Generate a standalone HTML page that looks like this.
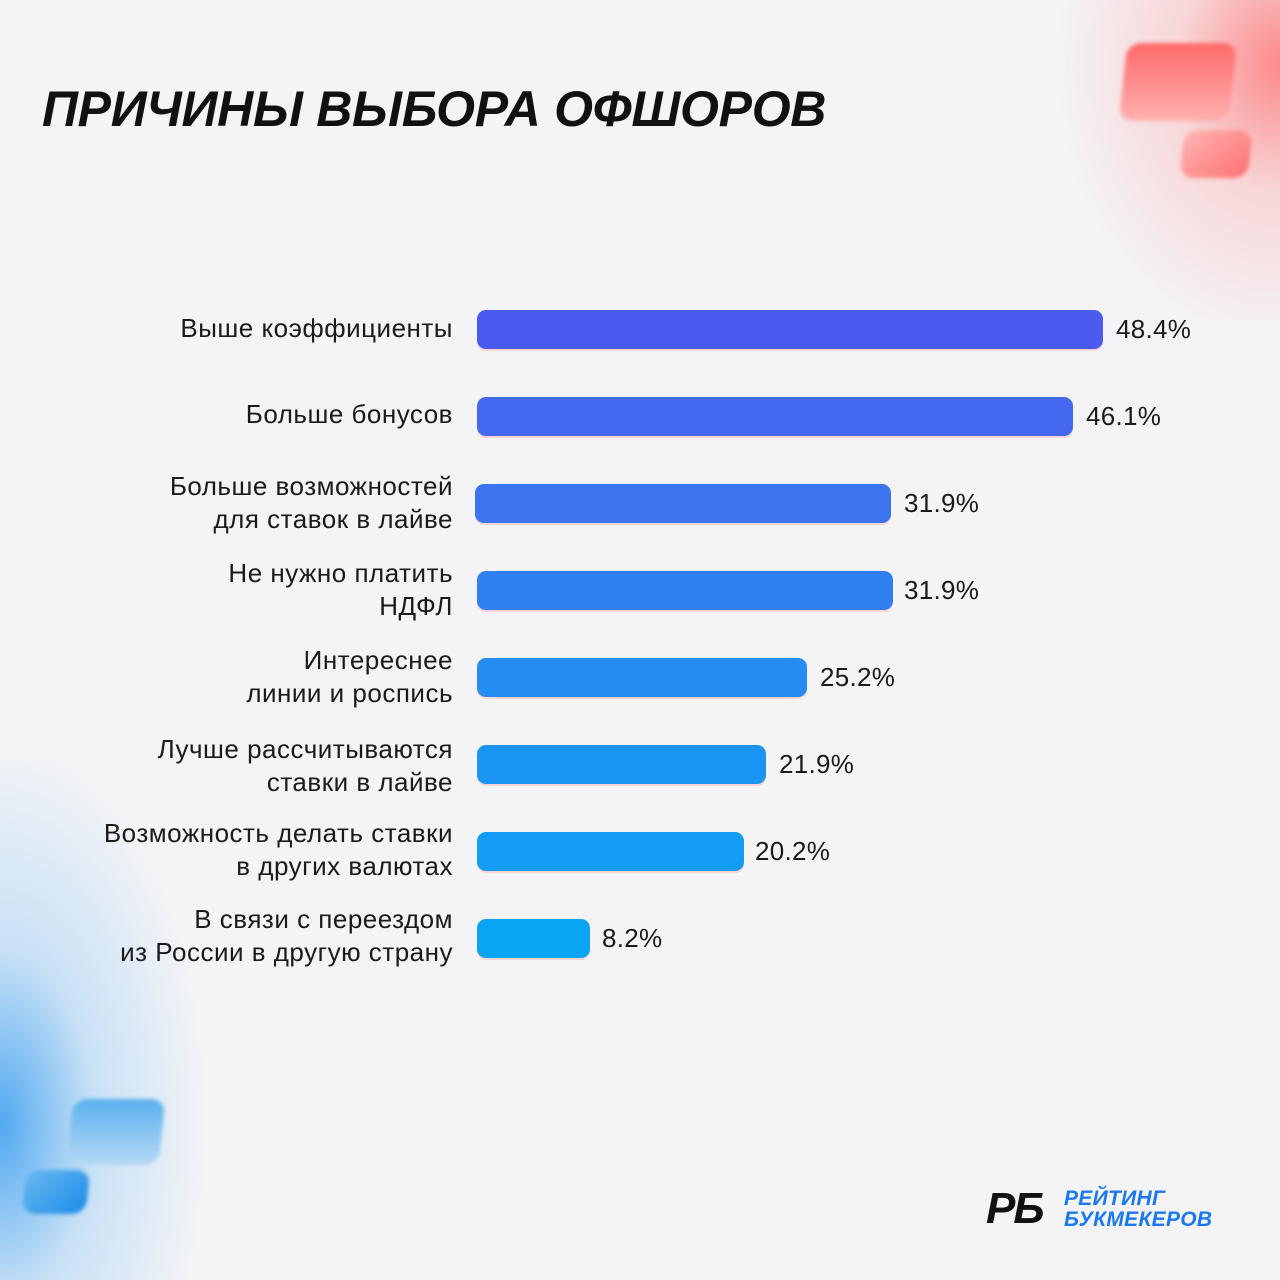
<!DOCTYPE html>
<html><head><meta charset="utf-8"><style>
body{margin:0;width:1280px;height:1280px;overflow:hidden;background:#f4f4f6;font-family:"Liberation Sans","DejaVu Sans",sans-serif;position:relative}
.bg1{position:absolute;right:0;top:0;width:380px;height:320px;background:radial-gradient(ellipse 60% 90% at 100% 20%,rgba(255,110,110,0.8),rgba(255,160,160,0.35) 45%,rgba(255,200,200,0) 100%)}
.bg2{position:absolute;left:0;bottom:0;width:300px;height:520px;background:radial-gradient(ellipse 70% 75% at 0% 70%,rgba(40,150,240,0.8),rgba(120,190,245,0.35) 45%,rgba(200,225,250,0) 100%)}
.sh{position:absolute;border-radius:14px;transform:skewX(-6deg);filter:blur(2px)}
h1{position:absolute;left:42px;top:80px;margin:0;font-size:50px;font-weight:bold;font-style:italic;color:#111;letter-spacing:-0.3px}
.lab{position:absolute;right:827px;text-align:right;font-size:26px;color:#1a1a1a;line-height:33px;letter-spacing:0.5px}
.bar{position:absolute;left:477px;height:39px;border-radius:9px;box-shadow:0 2px 0 rgba(255,150,150,0.35)}
.val{position:absolute;font-size:26px;color:#1a1a1a;letter-spacing:0.3px}
</style></head><body>
<div class="bg1"></div><div class="bg2"></div>
<div class="sh" style="left:1123px;top:43px;width:110px;height:78px;background:linear-gradient(#ff6a6a,#ffb0b0)"></div>
<div class="sh" style="left:1182px;top:130px;width:68px;height:48px;background:linear-gradient(135deg,#ffb5b5,#ff7070)"></div>
<div class="sh" style="left:70px;top:1099px;width:92px;height:66px;background:linear-gradient(#5ab0ee,#b6d8f5)"></div>
<div class="sh" style="left:24px;top:1170px;width:64px;height:44px;background:linear-gradient(135deg,#6ab8f0,#1a8ce8)"></div>
<h1>ПРИЧИНЫ ВЫБОРА ОФШОРОВ</h1>

<div class="lab" style="top:312px">Выше коэффициенты</div>
<div class="bar" style="top:310px;width:626px;background:#4a5cef"></div>
<div class="val" style="left:1116px;top:314px">48.4%</div>

<div class="lab" style="top:398px">Больше бонусов</div>
<div class="bar" style="top:397px;width:596px;background:#4568f0"></div>
<div class="val" style="left:1086px;top:401px">46.1%</div>

<div class="lab" style="top:470px">Больше возможностей<br>для ставок в лайве</div>
<div class="bar" style="top:484px;left:475px;width:416px;background:#3c74f0"></div>
<div class="val" style="left:904px;top:488px">31.9%</div>

<div class="lab" style="top:557px">Не нужно платить<br>НДФЛ</div>
<div class="bar" style="top:571px;width:416px;background:#3180f1"></div>
<div class="val" style="left:904px;top:575px">31.9%</div>

<div class="lab" style="top:644px">Интереснее<br>линии и роспись</div>
<div class="bar" style="top:658px;width:330px;background:#258cf2"></div>
<div class="val" style="left:820px;top:662px">25.2%</div>

<div class="lab" style="top:733px">Лучше рассчитываются<br>ставки в лайве</div>
<div class="bar" style="top:745px;width:289px;background:#1b95f3"></div>
<div class="val" style="left:779px;top:749px">21.9%</div>

<div class="lab" style="top:817px">Возможность делать ставки<br>в других валютах</div>
<div class="bar" style="top:832px;width:267px;background:#139cf4"></div>
<div class="val" style="left:755px;top:836px">20.2%</div>

<div class="lab" style="top:903px">В связи с переездом<br>из России в другую страну</div>
<div class="bar" style="top:919px;width:113px;background:#0aa4f5"></div>
<div class="val" style="left:602px;top:923px">8.2%</div>

<div style="position:absolute;left:986px;top:1184px;font-size:44px;font-weight:900;font-style:italic;color:#111;letter-spacing:-2px">РБ</div>
<div style="position:absolute;left:1064px;top:1188px;font-size:21px;font-weight:bold;font-style:italic;color:#1a78f0;line-height:21px;letter-spacing:0.3px">РЕЙТИНГ<br>БУКМЕКЕРОВ</div>
</body></html>
